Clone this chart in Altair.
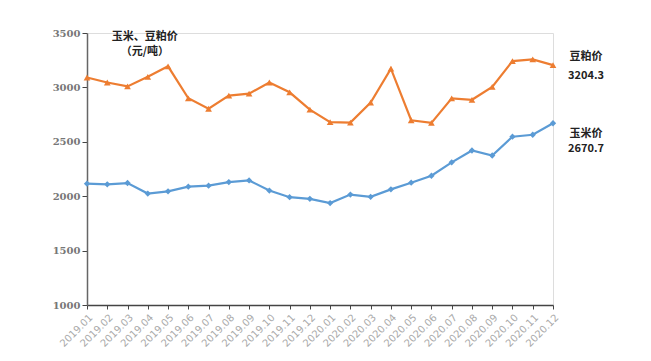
import altair as alt
import pandas as pd

months = ["2019.01","2019.02","2019.03","2019.04","2019.05","2019.06","2019.07","2019.08",
          "2019.09","2019.10","2019.11","2019.12","2020.01","2020.02","2020.03","2020.04",
          "2020.05","2020.06","2020.07","2020.08","2020.09","2020.10","2020.11","2020.12"]
soymeal = [3091, 3045, 3009, 3097, 3194, 2900, 2804, 2925, 2943, 3045, 2955, 2795,
           2680, 2677, 2861, 3172, 2698, 2674, 2900, 2886, 3004, 3242, 3257, 3204.3]
corn = [2115, 2109, 2121, 2024, 2045, 2088, 2097, 2130, 2145, 2052, 1991, 1976,
        1937, 2015, 1994, 2063, 2124, 2188, 2311, 2420, 2374, 2547, 2565, 2670.7]
series_names = ["豆粕价", "玉米价"]
colors = ["#ED7D31", "#5B9BD5"]

df = pd.DataFrame({
    "month": months * 2,
    "value": soymeal + corn,
    "series": [series_names[0]] * len(months) + [series_names[1]] * len(months),
})

xscale = alt.Scale(type="point", padding=0)
xs = alt.X("month:N", sort=months, title=None, scale=xscale,
           axis=alt.Axis(labelAngle=-45, labelColor="#aaaaaa", labelFontSize=10,
                         labelFont="DejaVu Sans", domainColor="#444444", tickColor="#444444",
                         tickSize=4, labelPadding=3, domainWidth=1.5))
ys = alt.Y("value:Q", title=None,
           scale=alt.Scale(domain=[1000, 3500], nice=False, zero=False),
           axis=alt.Axis(values=[1000, 1500, 2000, 2500, 3000, 3500], grid=False, format="d",
                         labelColor="#777777", labelFontSize=10, labelFontWeight="bold",
                         labelFont="DejaVu Serif", domainColor="#666666", tickColor="#444444",
                         tickSize=5, domainWidth=1.5))
color = alt.Color("series:N", scale=alt.Scale(domain=series_names, range=colors), legend=None)

base = alt.Chart(df)
line = base.mark_line(strokeWidth=2.2).encode(x=xs, y=ys, color=color)
pts_s = base.transform_filter(alt.datum.series == series_names[0]).mark_point(
    shape="triangle-up", filled=True, size=45, opacity=1).encode(x=xs, y=ys, color=color)
pts_c = base.transform_filter(alt.datum.series == series_names[1]).mark_point(
    shape="diamond", filled=True, size=40, opacity=1).encode(x=xs, y=ys, color=color)

def label(month, value, text, dx, dy):
    d = pd.DataFrame({"month": [month], "value": [value], "text": [text]})
    return alt.Chart(d).mark_text(
        align="center", dx=dx, dy=dy, font="Noto Sans CJK SC", fontSize=11,
        fontWeight="bold", color="#222222").encode(
        x=alt.X("month:N", sort=months, scale=xscale),
        y=alt.Y("value:Q"), text="text:N")

labels = [
    label(months[-1], soymeal[-1], "豆粕价", 33, -8),
    label(months[-1], soymeal[-1], f"{soymeal[-1]:.1f}", 33, 11),
    label(months[-1], corn[-1], "玉米价", 33, 11),
    label(months[-1], corn[-1], f"{corn[-1]:.1f}", 33, 26),
    label("2019.04", 3500, "玉米、豆粕价", -3, 4),
    label("2019.04", 3500, "（元/吨）", -3, 19),
]

chart = alt.layer(line, pts_s, pts_c, *labels).properties(
    width=466, height=272,
    autosize=alt.AutoSizeParams(type="none"),
    padding={"left": 79, "top": 25, "right": 90, "bottom": 50},
).configure_view(stroke=None).configure(background="white")

chart.save("out.html", embed_options={"renderer": "svg", "actions": False})
